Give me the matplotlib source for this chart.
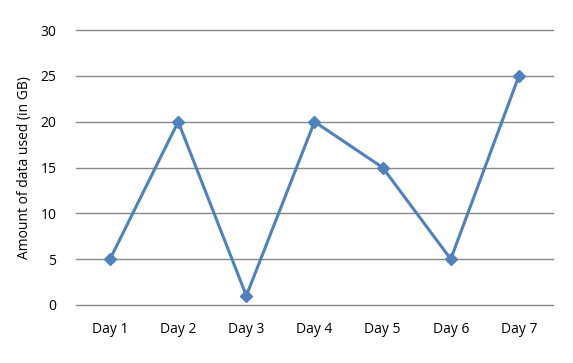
import matplotlib.pyplot as plt

days = ['Day 1', 'Day 2', 'Day 3', 'Day 4', 'Day 5', 'Day 6', 'Day 7']
data_gb = [5, 20, 1, 20, 15, 5, 25]
y_ticks = [0, 5, 10, 15, 20, 25, 30]

plt.rcParams['font.family'] = ['Open Sans', 'DejaVu Sans']

fig = plt.figure(figsize=(5.73, 3.63), dpi=100)
ax = fig.add_axes([0.1326, 0.160, 0.8325, 0.757])

x = list(range(len(days)))
ax.plot(x, data_gb, color='#4F81BD', linewidth=2.2, marker='D', markersize=6.5,
        clip_on=False, zorder=3)

ax.set_xlim(-0.5, len(days) - 0.5)
ax.set_ylim(0, 30)
ax.set_xticks(x)
ax.set_xticklabels(days)
ax.set_yticks(y_ticks)
ax.yaxis.grid(True, color='#888888', linewidth=1)
for gl in ax.get_ygridlines():
    gl.set_clip_on(False)
for s in ax.spines.values():
    s.set_visible(False)
ax.tick_params(length=0, labelsize=10, pad=12)
ax.tick_params(axis='y', pad=14)
ax.set_ylabel('Amount of data used (in GB)', fontsize=10, labelpad=6)

fig.savefig('out.png', dpi=100)
